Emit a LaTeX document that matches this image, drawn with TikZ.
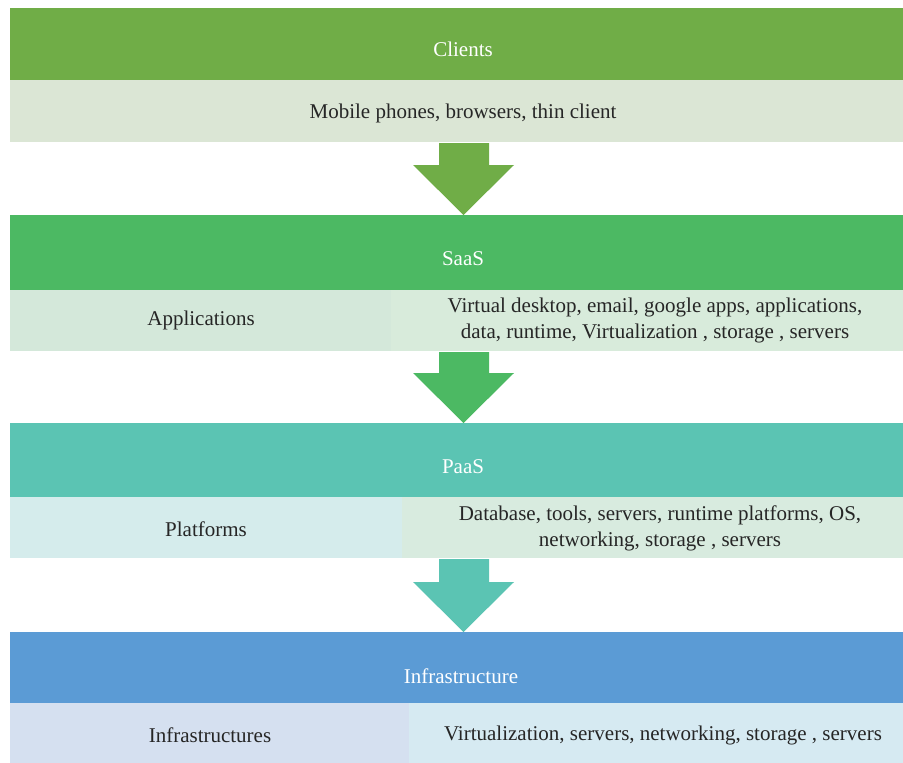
\documentclass[tikz,border=0pt]{standalone}
\usepackage{fontspec}
\setmainfont{Liberation Serif}
\begin{document}
\begin{tikzpicture}[x=1pt,y=-1pt,
  bar/.style={draw=none,inner sep=0pt,outer sep=0pt,font=\fontsize{21}{26}\selectfont,text=white},
  lbl/.style={font=\fontsize{21}{26}\selectfont,text=black!85,align=center,inner sep=0pt}]
\definecolor{cgreen}{HTML}{70AD47}
\definecolor{sgreen}{HTML}{4CB963}
\definecolor{pteal}{HTML}{5BC4B3}
\definecolor{iblue}{HTML}{5B9BD5}
\definecolor{lclient}{HTML}{DBE6D5}
\definecolor{lsaasL}{HTML}{D4E8DA}
\definecolor{lsaasR}{HTML}{D8EBDB}
\definecolor{lpaasL}{HTML}{D5ECEC}
\definecolor{lpaasR}{HTML}{D8EBDF}
\definecolor{linfL}{HTML}{D5E0F0}
\definecolor{linfR}{HTML}{D6EAF2}
\useasboundingbox (0,0) rectangle (903,763);
% Clients
\fill[cgreen] (10,8) rectangle (903,80);
\fill[lclient] (10,80) rectangle (903,142);
\node[bar] (clients) at (463,49) {Clients};
\node[lbl] (mobile) at (463,113) {Mobile phones, browsers, thin client};
% arrow 1
\fill[cgreen] (439,143) -- (489,143) -- (489,165) -- (514,165) -- (463.5,215) -- (413,165) -- (439,165) -- cycle;
% SaaS
\fill[sgreen] (10,215) rectangle (903,290);
\fill[lsaasL] (10,290) rectangle (391,351);
\fill[lsaasR] (391,290) rectangle (903,351);
\node[bar] (saas) at (463,259) {SaaS};
\node[lbl] (apps) at (201,320) {Applications};
\node[lbl] (saasr) at (655,320) {Virtual desktop, email, google apps, applications,\\data, runtime, Virtualization , storage , servers};
% arrow 2
\fill[sgreen] (439,352) -- (489,352) -- (489,373) -- (514,373) -- (463.5,423) -- (413,373) -- (439,373) -- cycle;
% PaaS
\fill[pteal] (10,423) rectangle (903,497);
\fill[lpaasL] (10,497) rectangle (402,558);
\fill[lpaasR] (402,497) rectangle (903,558);
\node[bar] (paas) at (463,467) {PaaS};
\node[lbl] (plat) at (206,529) {Platforms};
\node[lbl] (paasr) at (660,528) {Database, tools, servers, runtime platforms, OS,\\networking, storage , servers};
% arrow 3
\fill[pteal] (439,559) -- (489,559) -- (489,582) -- (514,582) -- (463.5,632) -- (413,582) -- (439,582) -- cycle;
% Infrastructure
\fill[iblue] (10,632) rectangle (903,703);
\fill[linfL] (10,703) rectangle (409,763);
\fill[linfR] (409,703) rectangle (903,763);
\node[bar] (infra) at (461,676) {Infrastructure};
\node[lbl] (infras) at (210,735) {Infrastructures};
\node[lbl] (infrar) at (663,735) {Virtualization, servers, networking, storage , servers};
\end{tikzpicture}
\end{document}
